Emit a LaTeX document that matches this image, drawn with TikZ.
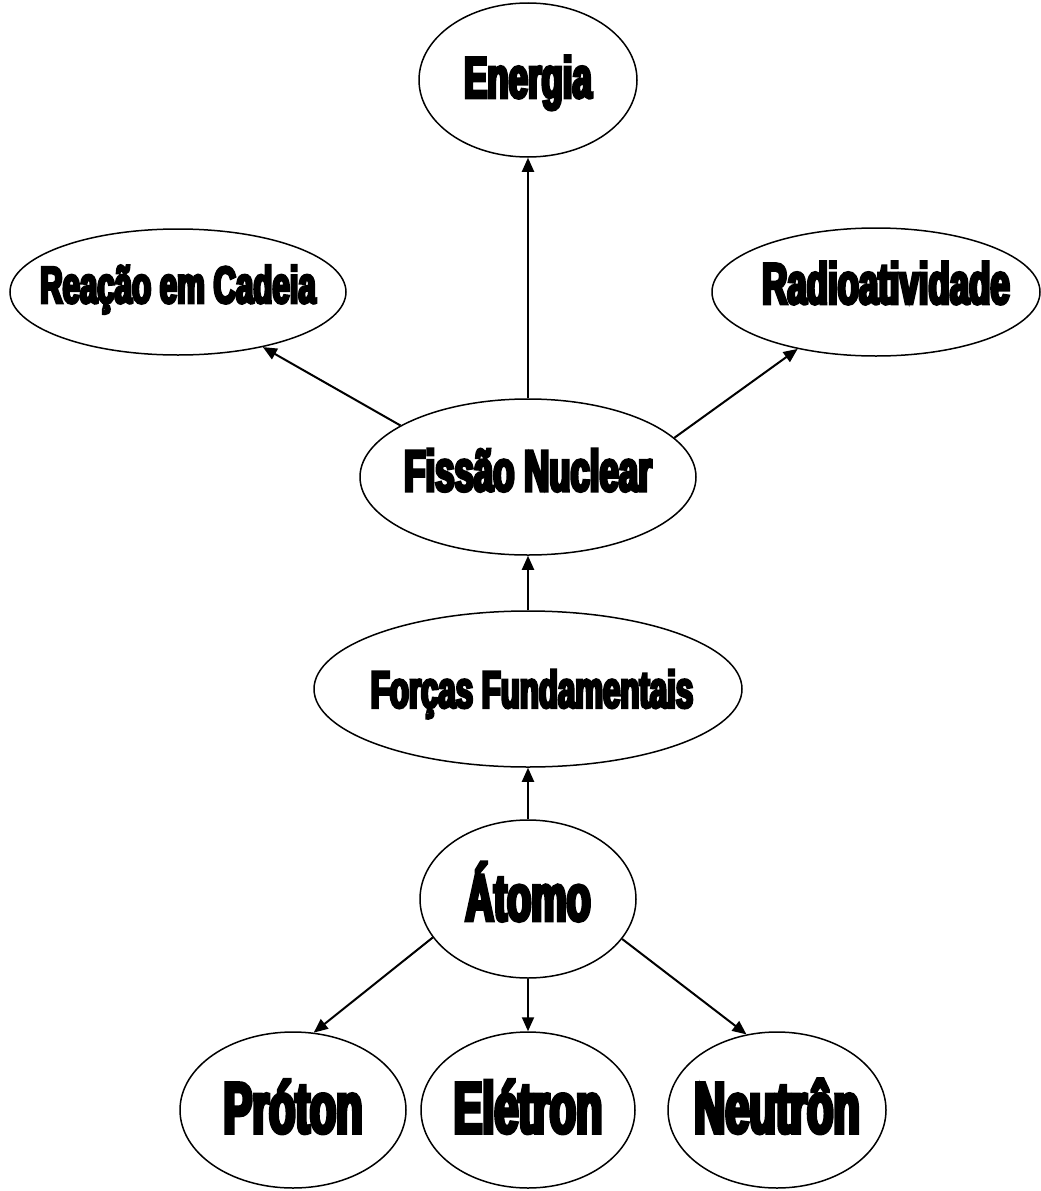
\documentclass[tikz,border=0pt]{standalone}
\usepackage{fontspec}
\usetikzlibrary{shapes.geometric,arrows.meta}
\newfontfamily\imp[FakeStretch=0.6,FakeBold=5.5]{Liberation Sans}
\newcommand{\fsz}[1]{\imp\bfseries\fontsize{#1}{#1}\selectfont}
\newcommand{\zb}[2][0pt]{\makebox[0pt]{\hspace*{#1}#2}}
\tikzset{
  bub/.style={draw, ellipse, line width=1.5pt, inner sep=0pt, text depth=0pt},
  arr/.style={line width=2pt, -{Triangle[length=14pt,width=12pt]}},
}
\begin{document}
\begin{tikzpicture}[x=1pt,y=-1pt]
\fill[white] (0,0) rectangle (1041,1191);
\useasboundingbox (0,0) rectangle (1041,1191);

\node[bub, minimum width=218pt, minimum height=154pt, text height=41.5pt, text depth=6pt, font=\fsz{58}] (en) at (528,80) {\zb{Energia}};
\node[bub, minimum width=336pt, minimum height=126pt, text height=38pt, text depth=16pt, font=\fsz{52}] (re) at (178,292) {\zb{Reação em Cadeia}};
\node[bub, minimum width=328pt, minimum height=128pt, text height=41.5pt, text depth=18pt, font=\fsz{58}] (ra) at (876,292) {\zb[20pt]{Radioatividade}};
\node[bub, minimum width=336pt, minimum height=156pt, text height=42pt, text depth=14pt, font=\fsz{58}] (fi) at (528,477) {\zb{Fissão Nuclear}};
\node[bub, minimum width=428pt, minimum height=156pt, text height=37.2pt, font=\fsz{52}] (fo) at (528,689) {\zb[8pt]{Forças Fundamentais}};
\node[bub, minimum width=216pt, minimum height=158pt, text height=47.3pt, text depth=4pt, font=\fsz{66}] (at) at (528,899) {\zb{Átomo}};
\node[bub, minimum width=226pt, minimum height=156pt, text height=51.5pt, text depth=6pt, font=\fsz{72}] (pr) at (293,1110) {\zb{Próton}};
\node[bub, minimum width=214pt, minimum height=156pt, text height=51.5pt, text depth=6pt, font=\fsz{72}] (el) at (528,1110) {\zb{Elétron}};
\node[bub, minimum width=218pt, minimum height=156pt, text height=51.5pt, text depth=6pt, font=\fsz{72}] (ne) at (777,1110) {\zb{Neutrôn}};

\draw[arr] (fi.north) -- (en.south);
\draw[arr] (fi.158.7) -- (re.327);
\draw[arr] (fi.15.6) -- (ra.216.9);
\draw[arr] (fo.north) -- (fi.south);
\draw[arr] (at.north) -- (fo.south);
\draw[arr] (at.202) -- (pr.75.4);
\draw[arr] (at.south) -- (el.north);
\draw[arr] (at.337) -- (ne.112.6);
\end{tikzpicture}
\end{document}
